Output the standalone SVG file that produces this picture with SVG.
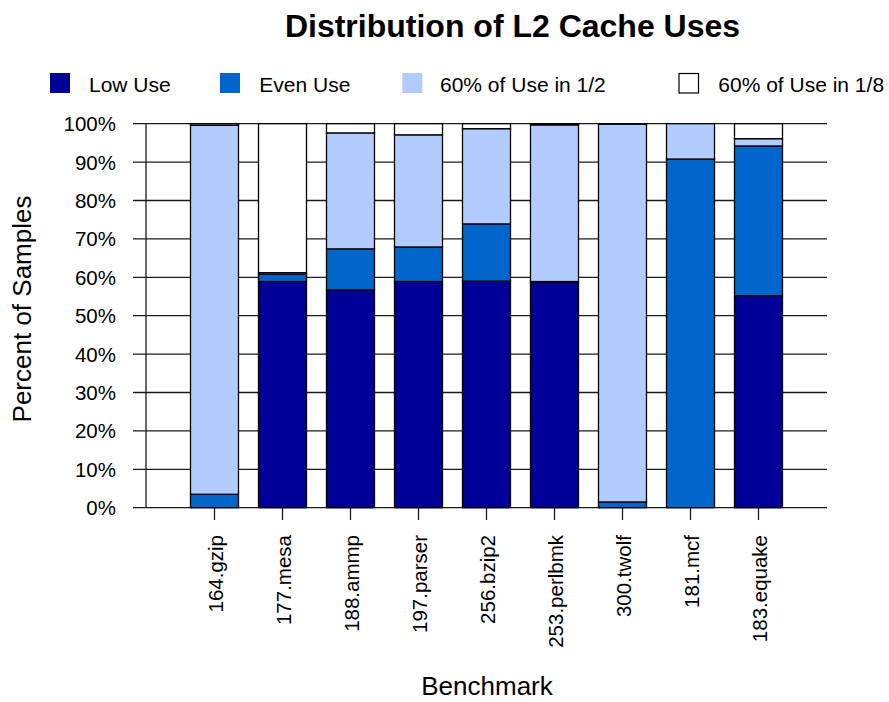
<svg xmlns="http://www.w3.org/2000/svg" width="889" height="702" viewBox="0 0 889 702">
  <style>
    text { font-family: "Liberation Sans", Arial, sans-serif; fill: #000; }
    .title { font-size: 32px; font-weight: bold; text-anchor: middle; }
    .lab { font-size: 21px; }
    .ytick { font-size: 20.5px; text-anchor: end; }
    .xtick { font-size: 20.5px; text-anchor: end; }
    .axt { font-size: 26px; text-anchor: middle; }
    .grid line { stroke: #1a1a1a; stroke-width: 1.3; }
    .bars rect { stroke: #000; stroke-width: 1.3; }
    .low { fill: #000099; }
    .even { fill: #0066cc; }
    .half { fill: #b3ccff; }
    .eighth { fill: #ffffff; }
    .sw { stroke: #000; stroke-width: 1.2; }
  </style>

  <!-- title -->
  <text class="title" x="512.5" y="37">Distribution of L2 Cache Uses</text>

  <!-- legend -->
  <g id="legend">
    <rect class="low" x="50" y="73" width="20" height="20"/>
    <text class="lab" x="89" y="92.3">Low Use</text>
    <rect class="even" x="220" y="73" width="20" height="20"/>
    <text class="lab" x="259.3" y="92.3">Even Use</text>
    <rect class="half" x="402.3" y="73" width="20" height="20"/>
    <text class="lab" x="440" y="92.3">60% of Use in 1/2</text>
    <rect class="eighth sw" x="679" y="73.5" width="19.5" height="19.5"/>
    <text class="lab" x="718.3" y="92.3">60% of Use in 1/8</text>
  </g>

  <!-- grid lines, y axis and x ticks -->
  <g id="axes" class="grid">
    <line x1="133" y1="507.7" x2="827" y2="507.7"/>
    <line x1="133" y1="469.3" x2="827" y2="469.3"/>
    <line x1="133" y1="430.9" x2="827" y2="430.9"/>
    <line x1="133" y1="392.5" x2="827" y2="392.5"/>
    <line x1="133" y1="354.1" x2="827" y2="354.1"/>
    <line x1="133" y1="315.7" x2="827" y2="315.7"/>
    <line x1="133" y1="277.3" x2="827" y2="277.3"/>
    <line x1="133" y1="238.9" x2="827" y2="238.9"/>
    <line x1="133" y1="200.5" x2="827" y2="200.5"/>
    <line x1="133" y1="162.1" x2="827" y2="162.1"/>
    <line x1="133" y1="123.7" x2="827" y2="123.7"/>
    <line x1="146" y1="123.7" x2="146" y2="507.7"/>
    <line x1="214.5" y1="507.7" x2="214.5" y2="520"/>
    <line x1="282.5" y1="507.7" x2="282.5" y2="520"/>
    <line x1="350.5" y1="507.7" x2="350.5" y2="520"/>
    <line x1="418.5" y1="507.7" x2="418.5" y2="520"/>
    <line x1="486.5" y1="507.7" x2="486.5" y2="520"/>
    <line x1="554.5" y1="507.7" x2="554.5" y2="520"/>
    <line x1="622.5" y1="507.7" x2="622.5" y2="520"/>
    <line x1="690.5" y1="507.7" x2="690.5" y2="520"/>
    <line x1="758.5" y1="507.7" x2="758.5" y2="520"/>
  </g>

  <!-- y tick labels -->
  <g id="yticks">
    <text class="ytick" x="116" y="515.2">0%</text>
    <text class="ytick" x="116" y="476.8">10%</text>
    <text class="ytick" x="116" y="438.4">20%</text>
    <text class="ytick" x="116" y="400">30%</text>
    <text class="ytick" x="116" y="361.6">40%</text>
    <text class="ytick" x="116" y="323.2">50%</text>
    <text class="ytick" x="116" y="284.8">60%</text>
    <text class="ytick" x="116" y="246.4">70%</text>
    <text class="ytick" x="116" y="208">80%</text>
    <text class="ytick" x="116" y="169.6">90%</text>
    <text class="ytick" x="116" y="131.2">100%</text>
  </g>

  <!-- stacked bars -->
  <g class="bars">
    <g id="bar-164gzip">
      <rect class="even" x="190.5" y="494.26" width="48" height="13.44"/>
      <rect class="half" x="190.5" y="125.24" width="48" height="369.02"/>
      <rect class="eighth" x="190.5" y="123.7" width="48" height="1.54"/>
    </g>
    <g id="bar-177mesa">
      <rect class="low" x="258.5" y="281.52" width="48" height="226.18"/>
      <rect class="even" x="258.5" y="274.23" width="48" height="7.29"/>
      <rect class="half" x="258.5" y="272.69" width="48" height="1.54"/>
      <rect class="eighth" x="258.5" y="123.7" width="48" height="148.99"/>
    </g>
    <g id="bar-188ammp">
      <rect class="low" x="326.5" y="289.97" width="48" height="217.73"/>
      <rect class="even" x="326.5" y="248.88" width="48" height="41.09"/>
      <rect class="half" x="326.5" y="132.92" width="48" height="115.96"/>
      <rect class="eighth" x="326.5" y="123.7" width="48" height="9.22"/>
    </g>
    <g id="bar-197parser">
      <rect class="low" x="394.5" y="281.52" width="48" height="226.18"/>
      <rect class="even" x="394.5" y="246.96" width="48" height="34.56"/>
      <rect class="half" x="394.5" y="134.84" width="48" height="112.12"/>
      <rect class="eighth" x="394.5" y="123.7" width="48" height="11.14"/>
    </g>
    <g id="bar-256bzip2">
      <rect class="low" x="462.5" y="281.14" width="48" height="226.56"/>
      <rect class="even" x="462.5" y="223.92" width="48" height="57.22"/>
      <rect class="half" x="462.5" y="128.69" width="48" height="95.23"/>
      <rect class="eighth" x="462.5" y="123.7" width="48" height="4.99"/>
    </g>
    <g id="bar-253perlbmk">
      <rect class="low" x="530.5" y="282.29" width="48" height="225.41"/>
      <rect class="even" x="530.5" y="281.52" width="48" height="0.77"/>
      <rect class="half" x="530.5" y="124.85" width="48" height="156.67"/>
      <rect class="eighth" x="530.5" y="123.7" width="48" height="1.15"/>
    </g>
    <g id="bar-300twolf">
      <rect class="even" x="598.5" y="501.94" width="48" height="5.76"/>
      <rect class="half" x="598.5" y="124.08" width="48" height="377.86"/>
      <rect class="eighth" x="598.5" y="123.7" width="48" height="0.38"/>
    </g>
    <g id="bar-181mcf">
      <rect class="even" x="666.5" y="159.03" width="48" height="348.67"/>
      <rect class="half" x="666.5" y="123.7" width="48" height="35.33"/>
    </g>
    <g id="bar-183equake">
      <rect class="low" x="734.5" y="295.73" width="48" height="211.97"/>
      <rect class="even" x="734.5" y="145.97" width="48" height="149.76"/>
      <rect class="half" x="734.5" y="138.68" width="48" height="7.29"/>
      <rect class="eighth" x="734.5" y="123.7" width="48" height="14.98"/>
    </g>
  </g>

  <!-- x tick labels -->
  <g id="xticks">
    <text class="xtick" transform="translate(222.5,535) rotate(-90)">164.gzip</text>
    <text class="xtick" transform="translate(290.5,535) rotate(-90)">177.mesa</text>
    <text class="xtick" transform="translate(358.5,535) rotate(-90)">188.ammp</text>
    <text class="xtick" transform="translate(426.5,535) rotate(-90)">197.parser</text>
    <text class="xtick" transform="translate(494.5,535) rotate(-90)">256.bzip2</text>
    <text class="xtick" transform="translate(562.5,535) rotate(-90)">253.perlbmk</text>
    <text class="xtick" transform="translate(630.5,535) rotate(-90)">300.twolf</text>
    <text class="xtick" transform="translate(698.5,535) rotate(-90)">181.mcf</text>
    <text class="xtick" transform="translate(766.5,535) rotate(-90)">183.equake</text>
  </g>

  <!-- axis titles -->
  <text class="axt" x="487" y="695">Benchmark</text>
  <text class="axt" transform="translate(31,309) rotate(-90)">Percent of Samples</text>
</svg>
